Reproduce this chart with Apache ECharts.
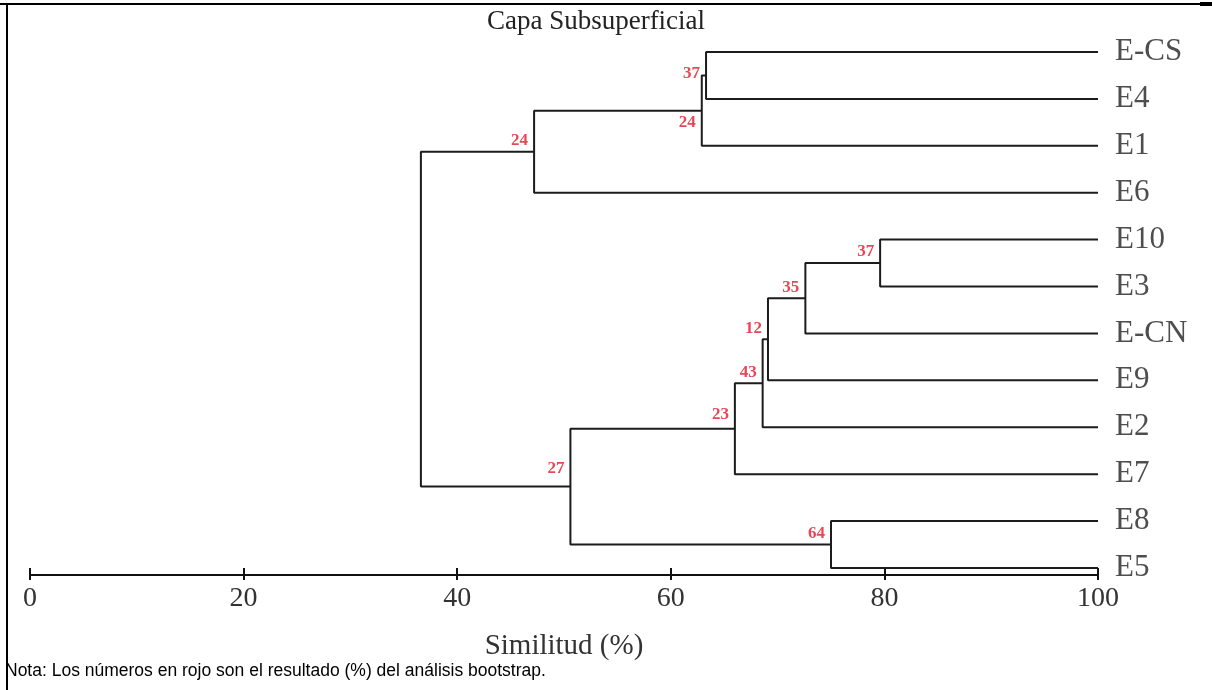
<!DOCTYPE html>
<html>
<head>
<meta charset="utf-8">
<script src="https://cdn.jsdelivr.net/npm/echarts@6/dist/echarts.min.js"></script>
<style>
html,body{margin:0;padding:0;background:#fff;}
#chart{width:1212px;height:690px;}
</style>
</head>
<body>
<div id="chart"></div>
<script>
// ---- Data ----
const leaves = ['E-CS', 'E4', 'E1', 'E6', 'E10', 'E3', 'E-CN', 'E9', 'E2', 'E7', 'E8', 'E5'];
// merges (clusters n1..n11): left child, right child, similarity (%), bootstrap (%)
const mergeLeft  = ['E-CS', 'n1', 'n2', 'E10', 'n4', 'n5', 'n6', 'n7', 'E8', 'n8', 'n3'];
const mergeRight = ['E4', 'E1', 'E6', 'E3', 'E-CN', 'E9', 'E2', 'E7', 'E5', 'n9', 'n10'];
const mergeSim   = [63.3, 62.9, 47.2, 79.6, 72.6, 69.1, 68.6, 66.0, 75.0, 50.6, 36.6];
const bootstrap  = [37, 24, 24, 37, 35, 12, 43, 23, 64, 27, null];
const xTicks = [0, 20, 40, 60, 80, 100];
const titleText = 'Capa Subsuperficial';
const axisTitle = 'Similitud (%)';
const noteText = 'Nota: Los números en rojo son el resultado (%) del análisis bootstrap.';

// ---- Build tree geometry (in data units) ----
const pos = {};
leaves.forEach((n, i) => { pos[n] = { x: 100, y: i }; });
const brackets = [];
const nodeLabels = [];
mergeSim.forEach((s, k) => {
  const a = pos[mergeLeft[k]], b = pos[mergeRight[k]];
  const y = (a.y + b.y) / 2;
  pos['n' + (k + 1)] = { x: s, y: y };
  brackets.push([[a.x, a.y], [s, a.y], [s, b.y], [b.x, b.y]]);
  if (bootstrap[k] != null) nodeLabels.push({ k: k, value: [s, y, bootstrap[k]] });
});

// label vertical offsets (style only)
const labelDy = { 0: -2, 1: 12, 7: -14, 9: -18 };

const serif = "'Liberation Serif', 'Times New Roman', serif";
const lineColor = '#1c1c1c';

const series = brackets.map(coords => ({
  type: 'line',
  data: coords,
  symbol: 'none',
  silent: true,
  animation: false,
  lineStyle: { color: lineColor, width: 2 },
  z: 3
}));

series.push({
  type: 'scatter',
  data: leaves.map((n, i) => [100, i, n]),
  symbolSize: 0,
  silent: true,
  animation: false,
  label: {
    show: true,
    position: 'right',
    distance: 17,
    formatter: p => p.value[2],
    fontFamily: serif,
    fontSize: 31,
    color: '#222'
  }
});

series.push({
  type: 'scatter',
  data: nodeLabels.map(d => ({
    value: d.value,
    label: { offset: [0, labelDy[d.k] !== undefined ? labelDy[d.k] : -11] }
  })),
  symbolSize: 0,
  silent: true,
  animation: false,
  label: {
    show: true,
    position: 'left',
    distance: 6,
    formatter: p => p.value[2],
    fontFamily: serif,
    fontWeight: 'bold',
    fontSize: 17,
    color: '#e3182a'
  },
  z: 5
});

const chart = echarts.init(document.getElementById('chart'), null, { renderer: 'canvas' });
chart.setOption({
  backgroundColor: '#fff',
  animation: false,
  grid: { left: 30, right: 114, top: 52, bottom: 115, containLabel: false },
  xAxis: [{
    type: 'value', min: xTicks[0], max: xTicks[xTicks.length - 1], interval: xTicks[1] - xTicks[0],
    position: 'bottom',
    axisLine: { show: true, onZero: false, lineStyle: { color: '#111', width: 2 } },
    axisTick: { show: true, inside: true, length: 7, lineStyle: { color: '#111', width: 2 } },
    axisLabel: { margin: 10, fontFamily: serif, fontSize: 28, color: '#333' },
    splitLine: { show: false },
    name: axisTitle, nameLocation: 'middle', nameGap: 57,
    nameTextStyle: { fontFamily: serif, fontSize: 29, color: '#333' }
  }, {
    type: 'value', min: xTicks[0], max: xTicks[xTicks.length - 1], interval: xTicks[1] - xTicks[0],
    position: 'bottom',
    axisLine: { show: false, onZero: false },
    axisTick: { show: true, inside: false, length: 5, lineStyle: { color: '#111', width: 2 } },
    axisLabel: { show: false },
    splitLine: { show: false }
  }],
  yAxis: { type: 'value', min: 0, max: 11.15, inverse: true, show: false },
  series: series,
  graphic: [
    { type: 'line', shape: { x1: 0, y1: 4, x2: 1212, y2: 4 }, style: { stroke: '#000', lineWidth: 2 } },
    { type: 'line', shape: { x1: 1200, y1: 4, x2: 1212, y2: 4 }, style: { stroke: '#000', lineWidth: 4 } },
    { type: 'line', shape: { x1: 7, y1: 3, x2: 7, y2: 690 }, style: { stroke: '#000', lineWidth: 2 } },
    { type: 'text', x: 596, y: 8, style: { text: titleText, textAlign: 'center', textVerticalAlign: 'top', font: "27px 'Liberation Serif', serif", fill: '#222' } },
    { type: 'text', x: 5, y: 662, style: { text: noteText, textAlign: 'left', textVerticalAlign: 'top', font: "17.5px 'Liberation Sans', Arial, sans-serif", fill: '#000' } }
  ]
});
</script>
</body>
</html>
